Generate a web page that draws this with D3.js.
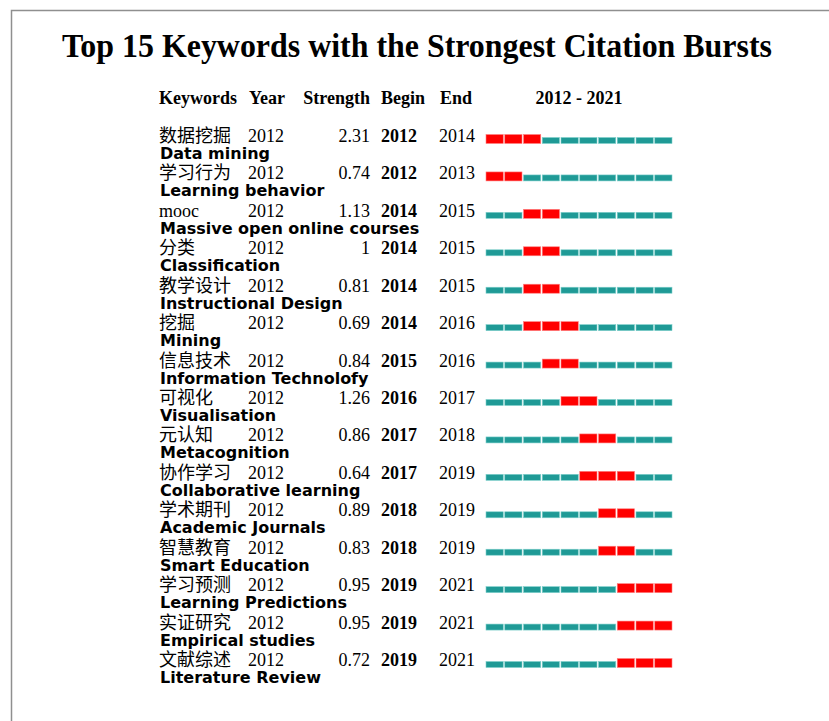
<!DOCTYPE html>
<html>
<head>
<meta charset="utf-8">
<script src="https://cdn.jsdelivr.net/npm/d3@7"></script>
<style>
  body { margin: 0; background: #fff; }
  svg { display: block; }
</style>
</head>
<body>
<div id="vis"></div>
<script>
// keyword data
var keywordsCn = ["数据挖掘", "学习行为", "mooc", "分类", "教学设计", "挖掘", "信息技术", "可视化",
    "元认知", "协作学习", "学术期刊", "智慧教育", "学习预测", "实证研究", "文献综述"];
var keywordsEn = ["Data mining", "Learning behavior", "Massive open online courses", "Classification",
    "Instructional Design", "Mining", "Information Technolofy", "Visualisation", "Metacognition",
    "Collaborative learning", "Academic Journals", "Smart Education", "Learning Predictions",
    "Empirical studies", "Literature Review"];
var years = [2012, 2012, 2012, 2012, 2012, 2012, 2012, 2012, 2012, 2012, 2012, 2012, 2012, 2012, 2012];
var strengths = ["2.31", "0.74", "1.13", "1", "0.81", "0.69", "0.84", "1.26", "0.86", "0.64", "0.89", "0.83", "0.95", "0.95", "0.72"];
var begins = [2012, 2012, 2014, 2014, 2014, 2014, 2015, 2016, 2017, 2017, 2018, 2018, 2019, 2019, 2019];
var ends = [2014, 2013, 2015, 2015, 2015, 2016, 2016, 2017, 2018, 2019, 2019, 2019, 2021, 2021, 2021];
var timeline = [2012, 2013, 2014, 2015, 2016, 2017, 2018, 2019, 2020, 2021];

var width = 829,
    height = 721,
    serif = "'Liberation Serif', 'Times New Roman', serif",
    cjk = "'Noto Sans CJK SC', sans-serif",
    sans = "'DejaVu Sans', sans-serif",
    red = "#ff0000",
    teal = "#1f9a96";

var data = keywordsCn.map(function(d, i) {
    return { cn: d, en: keywordsEn[i], year: years[i], strength: strengths[i], begin: begins[i], end: ends[i] };
});

var svg = d3.select("#vis").append("svg")
    .attr("width", width)
    .attr("height", height);

// frame
svg.append("path")
    .attr("d", "M11.5," + height + "V10.5H" + width)
    .attr("fill", "none")
    .attr("stroke", "#8f8f8f")
    .attr("stroke-width", 1.5);

svg.append("text")
    .attr("x", 417)
    .attr("y", 57)
    .attr("text-anchor", "middle")
    .attr("textLength", 710)
    .attr("lengthAdjust", "spacingAndGlyphs")
    .style("font-family", serif)
    .style("font-weight", "bold")
    .style("font-size", "33px")
    .text("Top 15 Keywords with the Strongest Citation Bursts");

// row baselines
var y = d3.scalePoint()
    .domain(d3.range(data.length))
    .range([142, 666]);

var x = d3.scaleBand()
    .domain(timeline)
    .range([486, 672])
    .paddingInner(0.08);

// header
var header = svg.append("g")
    .style("font-family", serif)
    .style("font-weight", "bold")
    .style("font-size", "18px");

header.append("text").attr("x", 159).attr("y", 104).text("Keywords");
header.append("text").attr("x", 249).attr("y", 104).text("Year");
header.append("text").attr("x", 370).attr("y", 104).attr("text-anchor", "end").text("Strength");
header.append("text").attr("x", 381).attr("y", 104).text("Begin");
header.append("text").attr("x", 440).attr("y", 104).text("End");
header.append("text")
    .attr("x", (x.range()[0] + x.range()[1]) / 2)
    .attr("y", 104)
    .attr("text-anchor", "middle")
    .text(timeline[0] + " - " + timeline[timeline.length - 1]);

var rows = svg.selectAll(".row")
    .data(data)
    .enter()
    .append("g")
    .attr("class", "row")
    .attr("transform", function(d, i) {
        return "translate(0," + y(i) + ")";
    });

rows.append("text")
    .attr("x", 159)
    .style("font-family", function(d) {
        return /^[a-z]+$/.test(d.cn) ? serif : cjk;
    })
    .style("font-size", "18px")
    .text(function(d) { return d.cn; });

rows.append("text")
    .attr("x", 160)
    .attr("y", 17)
    .style("font-family", sans)
    .style("font-weight", "bold")
    .style("font-size", "16px")
    .text(function(d) { return d.en; });

rows.append("text")
    .attr("x", 248)
    .style("font-family", serif)
    .style("font-size", "18px")
    .text(function(d) { return d.year; });

rows.append("text")
    .attr("x", 370)
    .attr("text-anchor", "end")
    .style("font-family", serif)
    .style("font-size", "18px")
    .text(function(d) { return d.strength; });

rows.append("text")
    .attr("x", 381)
    .style("font-family", serif)
    .style("font-weight", "bold")
    .style("font-size", "18px")
    .text(function(d) { return d.begin; });

rows.append("text")
    .attr("x", 439)
    .style("font-family", serif)
    .style("font-size", "18px")
    .text(function(d) { return d.end; });

// burst timeline cells
rows.selectAll(".cell")
    .data(function(d) {
        return timeline.map(function(t) {
            return { year: t, burst: t >= d.begin && t <= d.end };
        });
    })
    .enter()
    .append("rect")
    .attr("class", "cell")
    .attr("x", function(d) { return x(d.year); })
    .attr("width", x.bandwidth())
    .attr("y", function(d) { return d.burst ? -7.5 : -4.5; })
    .attr("height", function(d) { return d.burst ? 9 : 6; })
    .attr("fill", function(d) { return d.burst ? red : teal; })
    .attr("stroke", function(d) { return d.burst ? "#ff8080" : "#7fd0cc"; })
    .attr("stroke-width", 0.6);
</script>
</body>
</html>
